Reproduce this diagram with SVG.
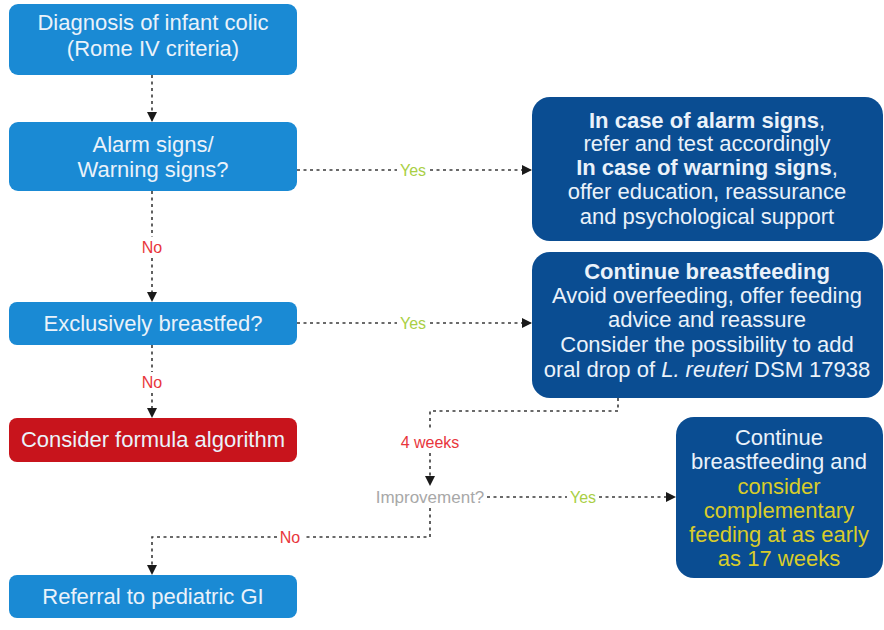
<svg xmlns="http://www.w3.org/2000/svg" width="884" height="630" viewBox="0 0 884 630">
  <defs>
    <marker id="arrow" viewBox="0 0 10 10" refX="9" refY="5" markerWidth="10" markerHeight="10" markerUnits="userSpaceOnUse" orient="auto">
      <path d="M0,0 L10,5 L0,10 Z" fill="#1a1a1a"/>
    </marker>
    <style>
      .lb { fill: #1a8ad4; }
      .db { fill: #0a4d92; }
      .rd { fill: #c8141c; }
      .t { font-family: "Liberation Sans", Arial, sans-serif; fill: #eaf2fa; text-anchor: middle; font-size: 22px; }
      .b { font-weight: bold; }
      .y { fill: #d9cc2a; }
      .lab { font-family: "Liberation Sans", Arial, sans-serif; font-size: 16px; text-anchor: middle; }
      .yes { fill: #a9cf45; }
      .no { fill: #e8363c; }
      .imp { fill: #a8a8a8; font-size: 17px; }
      .con { fill: none; stroke: #3a3a3a; stroke-width: 1.6; stroke-dasharray: 3 3.5; }
    </style>
  </defs>

  <rect width="884" height="630" fill="#ffffff"/>

  <!-- connectors and their labels -->
  <g id="connectors">
    <path class="con" d="M152,75 V121" marker-end="url(#arrow)"/>
    <path class="con" d="M152,191 V237 M152,258 V301" marker-end="url(#arrow)"/>
    <path class="con" d="M297,170 H397"/>
    <path class="con" d="M430,170 H531" marker-end="url(#arrow)"/>
    <path class="con" d="M297,323 H397"/>
    <path class="con" d="M430,323 H531" marker-end="url(#arrow)"/>
    <path class="con" d="M152,345 V372 M152,393 V417" marker-end="url(#arrow)"/>
    <path class="con" d="M618,398 V411 H430 V431"/>
    <path class="con" d="M430,453 V485" marker-end="url(#arrow)"/>
    <path class="con" d="M487,497 H567"/>
    <path class="con" d="M599,497 H675" marker-end="url(#arrow)"/>
    <path class="con" d="M430,508 V537 H303"/>
    <path class="con" d="M277,537 H152 V574" marker-end="url(#arrow)"/>

    <text class="lab yes" x="413" y="176">Yes</text>
    <text class="lab yes" x="413" y="329">Yes</text>
    <text class="lab no" x="152" y="253">No</text>
    <text class="lab no" x="152" y="388">No</text>
    <text class="lab no" x="430" y="448">4 weeks</text>
    <text class="lab imp" x="430" y="503">Improvement?</text>
    <text class="lab yes" x="583" y="503">Yes</text>
    <text class="lab no" x="290" y="543">No</text>
  </g>

  <!-- left column -->
  <g id="diagnosis">
    <rect class="lb" x="9" y="4" width="288" height="71" rx="9"/>
    <text class="t" x="153" y="30">Diagnosis of infant colic</text>
    <text class="t" x="153" y="56">(Rome IV criteria)</text>
  </g>

  <g id="alarm">
    <rect class="lb" x="9" y="122" width="288" height="69" rx="9"/>
    <text class="t" x="153" y="152">Alarm signs/</text>
    <text class="t" x="153" y="177">Warning signs?</text>
  </g>

  <g id="breastfed">
    <rect class="lb" x="9" y="302" width="288" height="43" rx="8"/>
    <text class="t" x="153" y="331">Exclusively breastfed?</text>
  </g>

  <g id="formula">
    <rect class="rd" x="9" y="418" width="288" height="44" rx="8"/>
    <text class="t" x="153" y="447">Consider formula algorithm</text>
  </g>

  <g id="referral">
    <rect class="lb" x="9" y="575" width="288" height="43" rx="8"/>
    <text class="t" x="153" y="604">Referral to pediatric GI</text>
  </g>

  <!-- right column -->
  <g id="alarm-action">
    <rect class="db" x="532" y="97" width="351" height="144" rx="18"/>
    <text class="t" x="707" y="128"><tspan class="b">In case of alarm signs</tspan>,</text>
    <text class="t" x="707" y="151">refer and test accordingly</text>
    <text class="t" x="707" y="175"><tspan class="b">In case of warning signs</tspan>,</text>
    <text class="t" x="707" y="199">offer education, reassurance</text>
    <text class="t" x="707" y="224">and psychological support</text>
  </g>

  <g id="breastfeeding-action">
    <rect class="db" x="532" y="252" width="351" height="146" rx="18"/>
    <text class="t b" x="707" y="279">Continue breastfeeding</text>
    <text class="t" x="707" y="303">Avoid overfeeding, offer feeding</text>
    <text class="t" x="707" y="327">advice and reassure</text>
    <text class="t" x="707" y="352">Consider the possibility to add</text>
    <text class="t" x="707" y="377">oral drop of <tspan font-style="italic">L. reuteri</tspan> DSM 17938</text>
  </g>

  <g id="complementary">
    <rect class="db" x="676" y="417" width="207" height="161" rx="18"/>
    <text class="t" x="779" y="445">Continue</text>
    <text class="t" x="779" y="469">breastfeeding and</text>
    <text class="t y" x="779" y="494">consider</text>
    <text class="t y" x="779" y="518">complementary</text>
    <text class="t y" x="779" y="542">feeding at as early</text>
    <text class="t y" x="779" y="566">as 17 weeks</text>
  </g>
</svg>
